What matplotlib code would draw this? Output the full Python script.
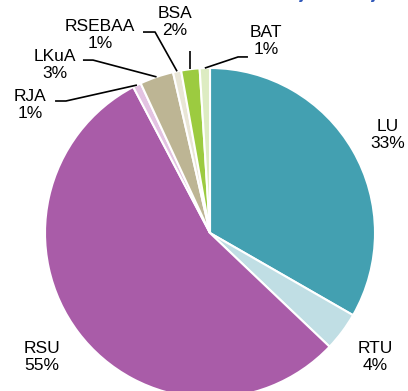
import numpy as np
import matplotlib
matplotlib.use("Agg")
import matplotlib.pyplot as plt

plt.rcParams["font.family"] = ["Liberation Sans", "DejaVu Sans"]

# Share of subjects by category
labels = ["LU", "RTU", "RSU", "RJA", "LKuA", "RSEBAA", "BSA", "BAT"]
shares = [33.3, 3.8, 55.2, 0.8, 3.3, 0.8, 1.8, 1.0]
colors = ["#43A0B1", "#C0DEE4", "#A95CA8", "#E3C3E2",
          "#BDB594", "#E9E6D6", "#9CCB40", "#DDECC2"]

fig = plt.figure(figsize=(4.08, 3.91), dpi=100)

# pie centre at (210, 233) px, radius 165 px
W, H = 408, 391
cx, cy, r = 210, 233, 165
ax = fig.add_axes([(cx - r) / W, (H - cy - r) / H, 2 * r / W, 2 * r / H])

wedges, _ = ax.pie(shares, colors=colors, startangle=90, counterclock=False,
                   radius=1.0, wedgeprops=dict(edgecolor="white", linewidth=1.5))
for w in wedges:
    w.set_clip_on(False)
ax.set_xlim(-1, 1)
ax.set_ylim(-1, 1)
ax.axis("off")

# label placement (text centre) and leader line start/elbow
label_pos = {
    "LU": (1.079, 0.594),
    "RTU": (1.0, -0.752),
    "RSU": (-1.018, -0.752),
    "RJA": (-1.091, 0.776),
    "LKuA": (-0.939, 1.018),
    "RSEBAA": (-0.667, 1.20),
    "BSA": (-0.212, 1.279),
    "BAT": (0.339, 1.164),
}
leaders = {
    "RJA": [(-0.939, 0.80), (-0.873, 0.80)],
    "LKuA": [(-0.770, 1.048), (-0.709, 1.048)],
    "RSEBAA": [(-0.406, 1.218), (-0.333, 1.218)],
    "BSA": [],
    "BAT": [(0.230, 1.067), (0.170, 1.067)],
}

total = sum(shares)
cum = np.cumsum([0] + shares)
for i, name in enumerate(labels):
    pct = shares[i] / total * 100
    x, y = label_pos[name]
    ax.text(x, y, f"{name}\n{pct:.0f}%", ha="center", va="center",
            fontsize=12.5, linespacing=1.12, color="black")
    if name in leaders:
        mid = (cum[i] + cum[i + 1]) / 2 / total
        ang = np.deg2rad(90 - mid * 360)
        ex, ey = np.cos(ang), np.sin(ang)
        pts = leaders[name]
        if not pts:
            pts = [(ex, 1.10)]
        pts = pts + [(ex, ey)]
        xs, ys = zip(*pts)
        ax.plot(xs, ys, color="black", lw=1.2, clip_on=False,
                solid_capstyle="butt")

# chart heading, sitting just above the visible area
fig.text(0.42, 1 + 1.5 / H, "Structure of subjects subject to the Act by subject type",
         ha="left", va="baseline", fontsize=12, fontweight="bold",
         color="#2B54B8")

fig.savefig("out.png", dpi=100)
